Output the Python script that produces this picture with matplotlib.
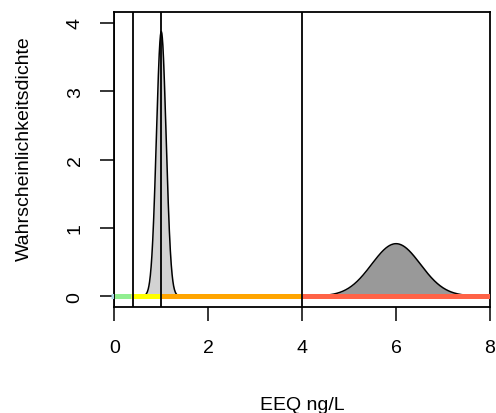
import numpy as np
import matplotlib.pyplot as plt

plt.rcParams['font.family'] = ['Liberation Sans', 'DejaVu Sans']

# two normal densities (mean, sd, half-width of drawn range, fill colour)
means = [1.0, 6.0]
sds = [0.103, 0.52]
halfwidths = [0.35, 1.5]
fills = ['#d3d3d3', '#999999']

# coloured classes along the x axis
class_edges = [-0.06, 0.0, 0.35, 1.0, 4.0, 8.0]
class_colors = ['#add8e6', '#90ee90', '#ffff00', '#ffa500', '#ff6347']

# vertical reference lines
vlines = [0.0, 0.4, 1.0, 4.0]

xticks = [0, 2, 4, 6, 8]
yticks = [0, 1, 2, 3, 4]

fig = plt.figure(figsize=(4.96, 4.14), dpi=100)
ax = fig.add_axes([114.3 / 496, 1 - 308 / 414, (490 - 114.3) / 496, (308 - 13) / 414])

for m, s, hw, c in zip(means, sds, halfwidths, fills):
    x = np.linspace(m - hw, m + hw, 300)
    y = np.exp(-0.5 * ((x - m) / s) ** 2) / (s * np.sqrt(2 * np.pi))
    ax.fill_between(x, 0, y, color=c, lw=0, zorder=1)
    ax.plot(x, y, color='black', lw=1.1, zorder=2)

for i, c in enumerate(class_colors):
    ax.plot(class_edges[i:i + 2], [0, 0], color=c, lw=3.6, solid_capstyle='butt',
            zorder=3, clip_on=(i != 0))

for v in vlines:
    ax.axvline(v, color='black', lw=1.3, zorder=4)

ax.set_xlim(0, 8)
ax.set_ylim(-0.16, 4.16)
ax.set_xticks(xticks)
ax.set_yticks(yticks)
ax.set_xticklabels([str(t) for t in xticks])
ax.set_yticklabels([str(t) for t in yticks], rotation=90, va='center')
ax.tick_params(axis='both', length=10, width=1.1, labelsize=14)
ax.tick_params(axis='x', pad=13)
ax.tick_params(axis='y', pad=12)
for sp in ax.spines.values():
    sp.set_linewidth(1.3)

ax.set_xlabel('EEQ ng/L', fontsize=14, va='baseline')
ax.xaxis.set_label_coords(0.5, -0.346)
ax.set_ylabel('Wahrscheinlichkeitsdichte', fontsize=14)
ax.yaxis.set_label_coords(-0.216, 0.539)

fig.savefig('out.png', dpi=100)
